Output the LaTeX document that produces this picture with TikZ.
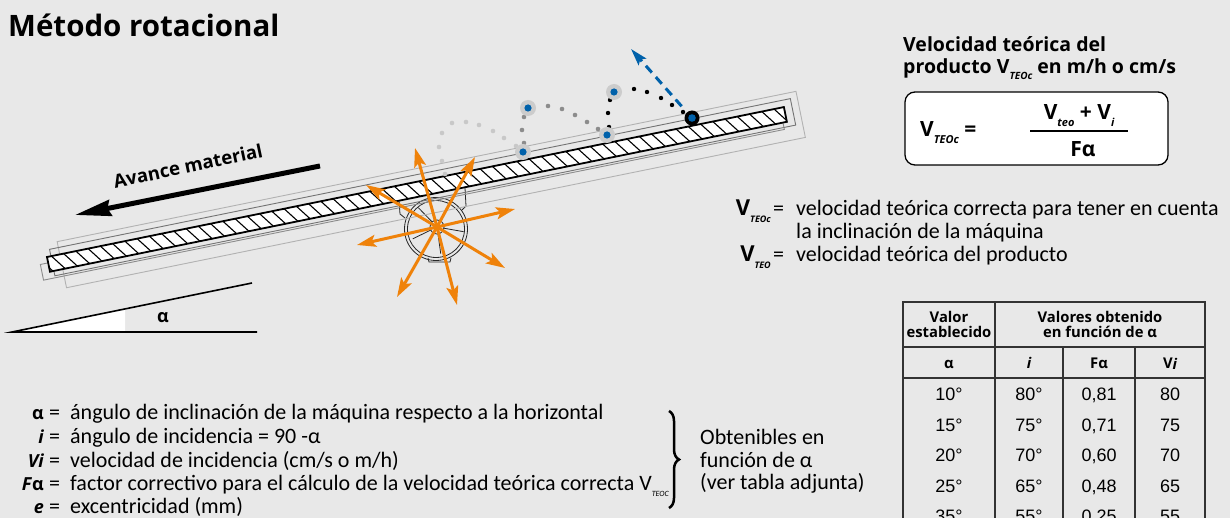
\documentclass[tikz,border=0pt]{standalone}
\usepackage{fontspec}
\setmainfont{Carlito}
\newfontfamily\hfont{Open Sans}
\newfontfamily\numfont{Liberation Sans}
\usetikzlibrary{arrows.meta,decorations.pathreplacing,calc}
\definecolor{bgc}{RGB}{232,232,232}
\definecolor{org}{RGB}{239,130,10}
\definecolor{blu}{RGB}{0,97,170}
\definecolor{halo}{RGB}{204,204,204}
\definecolor{dotlight}{RGB}{200,200,200}
\definecolor{dotmid}{RGB}{140,140,140}
% small lowered italic index
\newcommand{\lsub}[2][9]{\raisebox{-0.3em}{\fontsize{#1}{#1}\selectfont\itshape #2}}
% bold heading face
\newcommand{\hb}{\hfont\bfseries}
\begin{document}
\begin{tikzpicture}[x=1pt,y=-1pt,
  lbl/.style={inner sep=0pt, anchor=base west},
  lblr/.style={inner sep=0pt, anchor=base east},
  lblc/.style={inner sep=0pt, anchor=base},
  body/.style={font=\fontsize{22}{24}\selectfont},
  oarrow/.style={org, line width=3pt, -{Stealth[length=19pt,width=12pt,inset=4pt]}},
  mline/.style={black!85, line width=0.8pt},
  tline/.style={black!80, line width=1.3pt},
  hd/.style={font=\hb\fontsize{14.8}{16}\selectfont},
  num/.style={font=\numfont\fontsize{18}{20}\selectfont}]
\useasboundingbox (0,0) rectangle (1230,518);
\clip (0,0) rectangle (1230,518);
\fill[bgc] (0,0) rectangle (1230,518);

% title
\node[lbl, font=\hb\fontsize{29.5}{34}\selectfont] (title) at (8,37) {Método rotacional};

% motor below the trough
\coordinate (mc) at (436,229);
\coordinate (hub) at (437,227);
\draw[mline] (mc) circle (31.5pt);
\draw[mline] (mc) circle (28.5pt);
\draw[mline] (hub) circle (7pt);
\foreach \a in {-10,62,134,206,278}
  \draw[mline] ($(hub)+(\a:7pt)$) -- ($(hub)+(\a:27pt)$);
\draw[mline] (428,258) -- (429,262) -- (450,262) -- (451,258);
\draw[mline] (399,201) -- (400,214) -- (405,218);
\draw[mline] (465,188) -- (466,206) -- (462,210);

% trough: outlines and hatched bar
\begin{scope}[shift={(47,257)}, rotate=11.5]
  \draw[black!30, line width=0.9pt] (13,-13) rectangle (767,34);
  \draw[black!55, line width=0.9pt] (4,-7) rectangle (760,20);
  \draw[black!45, line width=0.9pt] (-8,6) rectangle (748,22);
  \fill[white] (0,0) rectangle (752,15);
  \begin{scope}
    \clip (0,0) rectangle (752,15);
    \foreach \u in {-8,4.5,...,760}
      \draw[line width=1.1pt] (\u,0) -- ++(11,15);
  \end{scope}
  \draw[line width=1.8pt] (0,0) rectangle (752,15);
\end{scope}

% particle path
\foreach \x/\y in {445/174,442/161,439/147,442/133,452/123,466/122,479/125,493/131,504/138,516/146}
  \fill[dotlight] (\x,\y) circle (2.3pt);
\foreach \x/\y in {524/143,522/130,524/117,548/106,562/109,575/115,587/122,598/129}
  \fill[dotmid] (\x,\y) circle (2.3pt);
\foreach \x/\y in {609/127,608/113,610/100,634/89,647/92,661/98,672/105,683/112}
  \fill[black] (\x,\y) circle (2.2pt);
\foreach \x/\y in {523/152,528/108,607/135,614/92}{
  \fill[halo] (\x,\y) circle (8pt);
  \fill[blu] (\x,\y) circle (3.6pt);}
\coordinate (ball) at (692,118);
\coordinate (throw) at (631,49);
\fill[black] (ball) circle (7.5pt);
\fill[blu] (ball) circle (3.8pt);
\draw[blu, line width=3pt, dash pattern=on 9pt off 6pt,
  -{Stealth[length=17pt,width=10pt,inset=3pt]}] ($(ball)!0.17!(throw)$) -- (throw);

% vibration directions
\foreach \t/\x/\y in {t1/357/245,t2/515/209,t3/505/268,t4/397/297,
                      t5/457/305,t6/366/185,t7/415/148,t8/475/157}{
  \coordinate (\t) at (\x,\y);
  \draw[oarrow] (hub) -- (\t);}

% feed direction
\coordinate (av1) at (320,166);
\coordinate (av2) at (75,215);
\draw[line width=5pt, -{Stealth[length=36pt,width=16pt,inset=3pt]}] (av1) -- (av2);
\node[inner sep=0pt, rotate=12, font=\hb\fontsize{18.6}{22}\selectfont] (avance) at (188,166) {Avance material};

% inclination angle
\coordinate (a0) at (12,332);
\coordinate (a1) at (257,332);
\coordinate (a2) at (252,283);
\fill[white] (a0) -- (125,332) -- (125,309) -- cycle;
\draw[line width=1.6pt] (a1) -- (a0) -- (a2);
\node[lblc, font=\hb\fontsize{18}{22}\selectfont] (alpha) at (163,322) {α};

% formula
\node[lbl, font=\hb\fontsize{19.5}{22}\selectfont] (fh1) at (903,52) {Velocidad teórica del};
\node[lbl, font=\hb\fontsize{19.5}{22}\selectfont] (fh2) at (903,74) {producto V\lsub[10]{TEOc} en m/h o cm/s};
\node[draw, line width=1.3pt, fill=white, rounded corners=10pt,
  minimum width=263pt, minimum height=73pt] (fbox) at (1036.5,128.5) {};
\node[lbl, font=\hb\fontsize{21}{24}\selectfont] (fl) at (920,137) {V\lsub[11]{TEOc} =};
\node[lblc, font=\hb\fontsize{21}{24}\selectfont] (fnum) at (1079,120) {V\lsub[11]{teo} + V\lsub[11]{i}};
\draw[line width=1.3pt] (1030,131) -- (1128,131);
\node[lblc, font=\hb\fontsize{21}{24}\selectfont] (fden) at (1083,157) {Fα};

% legend on the right
\node[lblr, body] (lv1) at (771,216) {{\hb V}\lsub[9]{\hb TEOc}};
\node[lbl, body] (le1) at (773,216) {=};
\node[lbl, body] (lt1) at (796,216) {velocidad teórica correcta para tener en cuenta};
\node[lbl, body] (lt2) at (796,239) {la inclinación de la máquina};
\node[lblr, body] (lv2) at (771,262) {{\hb V}\lsub[9]{\hb TEO}};
\node[lbl, body] (le2) at (773,262) {=};
\node[lbl, body] (lt3) at (796,262) {velocidad teórica del producto};

% symbol list
\node[lblr, body] (s1) at (44,419) {\hb\fontsize{18}{22}\selectfont α};
\node[lblr, body] (s2) at (44,443) {\hb\itshape\fontsize{18}{22}\selectfont i};
\node[lblr, body] (s3) at (44,467) {\hb\itshape\fontsize{18}{22}\selectfont Vi};
\node[lblr, body] (s4) at (44,490) {\hb\fontsize{18}{22}\selectfont\textit{F}α};
\node[lblr, body] (s5) at (44,513) {\hb\itshape\fontsize{18}{22}\selectfont e};
\foreach \n/\y in {1/419,2/443,3/467,4/490,5/513}
  \node[lbl, body] (q\n) at (49,\y) {=};
\node[lbl, body] (d1) at (70,419) {ángulo de inclinación de la máquina respecto a la horizontal};
\node[lbl, body] (d2) at (70,443) {ángulo de incidencia = 90 -α};
\node[lbl, body] (d3) at (70,467) {velocidad de incidencia (cm/s o m/h)};
\node[lbl, body] (d4) at (70,490) {factor correctivo para el cálculo de la velocidad teórica correcta V\lsub[8]{TEOC}};
\node[lbl, body] (d5) at (70,513) {excentricidad (mm)};
\coordinate (br1) at (669,411);
\coordinate (br2) at (669,508);
\draw[line width=2.5pt, decorate, decoration={brace, amplitude=10pt}] (br1) -- (br2);
\node[lbl, body] (o1) at (700,444) {Obtenibles en};
\node[lbl, body] (o2) at (700,467) {función de α};
\node[lbl, body] (o3) at (700,489) {(ver tabla adjunta)};

% table
\draw[tline] (903,540) -- (903,302) -- (1205,302) -- (1205,540);
\draw[tline] (995,302) -- (995,540);
\draw[tline] (903,347) -- (1205,347);
\draw[tline] (903,378) -- (1205,378);
\draw[tline] (1063,347) -- (1063,540);
\draw[tline] (1135,347) -- (1135,540);
\node[lblc, hd] (h1) at (949,323) {Valor};
\node[lblc, hd] (h2) at (949,337) {establecido};
\node[lblc, hd] (h3) at (1100,323) {Valores obtenido};
\node[lblc, hd] (h4) at (1100,337) {en función de α};
\node[lblc, hd] (c1) at (949,368) {α};
\node[lblc, hd] (c2) at (1029,368) {\itshape i};
\node[lblc, hd] (c3) at (1099,368) {Fα};
\node[lblc, hd] (c4) at (1170,368) {V\raisebox{-1.5pt}{\itshape i}};
\foreach \r/\y/\a/\b/\c/\d in {1/400/10/80/{0,81}/80, 2/431/15/75/{0,71}/75,
    3/461/20/70/{0,60}/70, 4/492/25/65/{0,48}/65, 5/522/35/55/{0,25}/55}{
  \node[lblc, num] (ra\r) at (949,\y) {\a°};
  \node[lblc, num] (rb\r) at (1029,\y) {\b°};
  \node[lblc, num] (rc\r) at (1099,\y) {\c};
  \node[lblc, num] (rd\r) at (1170,\y) {\d};}
\end{tikzpicture}
\end{document}
